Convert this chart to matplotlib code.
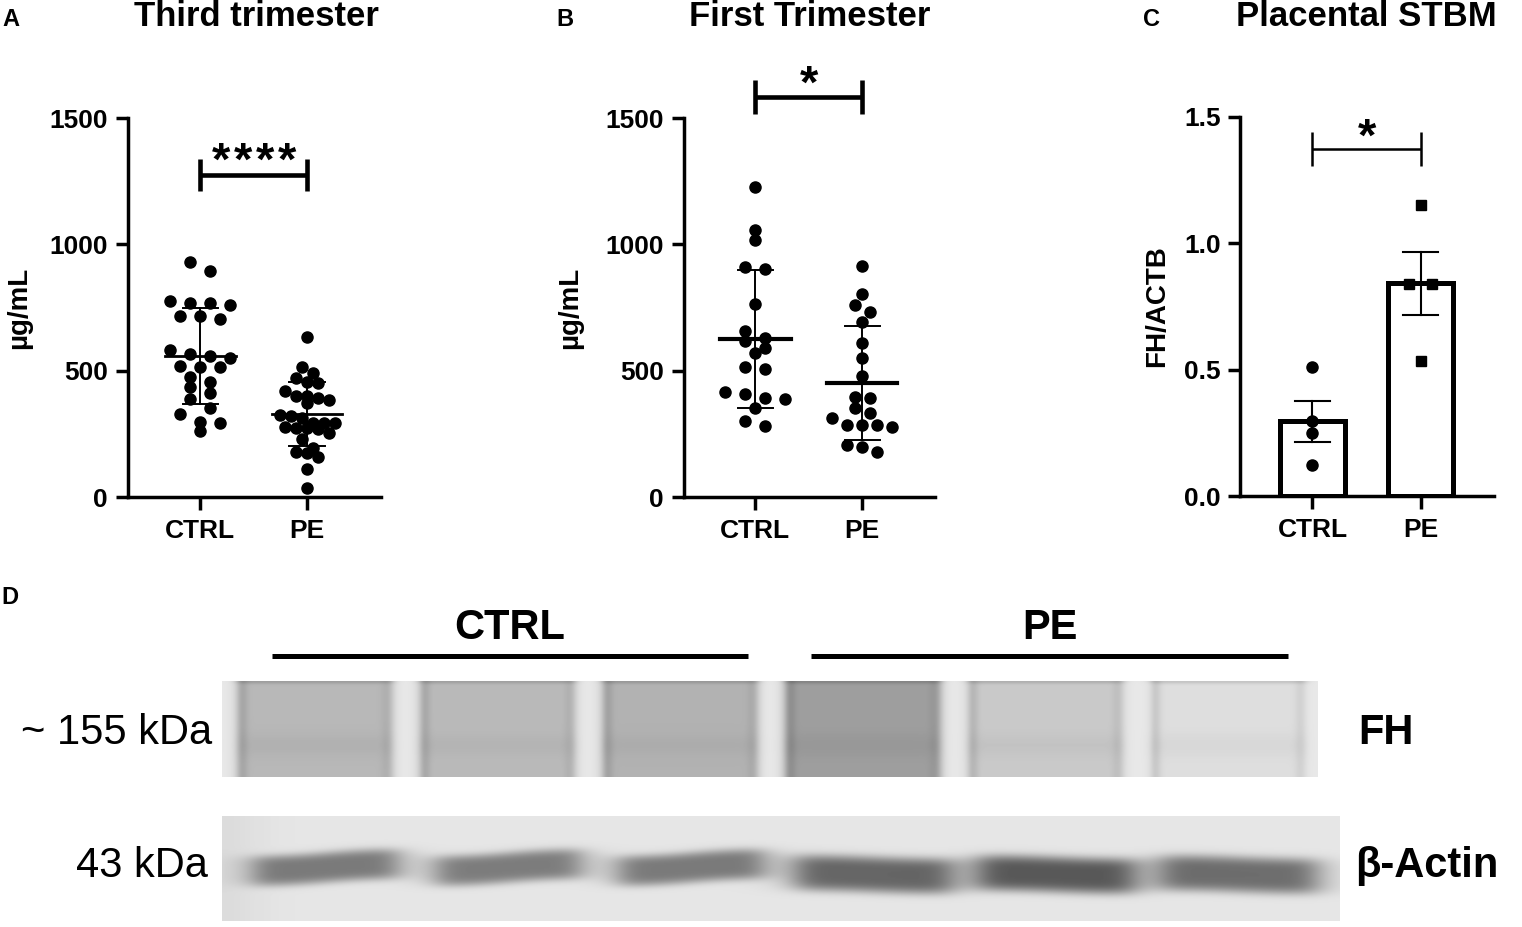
import numpy as np
import matplotlib.pyplot as plt

plt.rcParams['font.family'] = ['Liberation Sans', 'DejaVu Sans']
plt.rcParams['font.weight'] = 'bold'
plt.rcParams['axes.labelweight'] = 'bold'

# ---------------- data ----------------
groups = ['CTRL', 'PE']

# A: third trimester serum FH (ug/mL)
third_ctrl = [929, 896, 760, 776, 766, 766, 717, 704, 717, 582, 566, 549, 558,
              513, 518, 513, 454, 474, 410, 434, 388, 351, 327, 262, 292, 298]
third_pe = [634, 516, 492, 472, 456, 452, 419, 400, 400, 390, 384, 371, 324, 311,
            320, 268, 278, 294, 294, 272, 254, 294, 272, 228, 179, 157, 175, 193,
            110, 37]
third_mean = [558, 328]
third_sd = [190, 127]

# B: first trimester serum FH (ug/mL)
first_ctrl = [1228, 1057, 1017, 901, 911, 762, 617, 628, 657, 588, 569, 506, 513,
              417, 390, 408, 387, 353, 301, 281]
first_pe = [914, 803, 760, 733, 691, 608, 549, 479, 390, 394, 351, 311, 331, 276,
            285, 285, 285, 206, 197, 179]
first_mean = [624, 452]
first_sd = [273, 225]

# C: placental STBM, FH/ACTB
stbm_ctrl = [0.512, 0.298, 0.248, 0.123]
stbm_pe = [1.152, 0.839, 0.839, 0.535]
stbm_mean = [0.295, 0.841]
stbm_sem = [0.081, 0.125]

# D: western blot, relative lane darkness
lane_groups = ['CTRL', 'CTRL', 'CTRL', 'PE', 'PE', 'PE']
fh_level = [0.72, 0.73, 0.70, 0.62, 0.79, 0.87]      # grey of FH strip per lane
actin_density = [0.42, 0.41, 0.42, 0.50, 0.55, 0.47]  # darkness of actin band

W, H = 1522, 927
fig = plt.figure(figsize=(W / 100, H / 100), dpi=100)


def px_axes(left, top, right, bottom):
    return fig.add_axes([left / W, 1 - bottom / H, (right - left) / W, (bottom - top) / H])


def style(ax):
    for s in ['top', 'right']:
        ax.spines[s].set_visible(False)
    for s in ['left', 'bottom']:
        ax.spines[s].set_linewidth(2.5)
        ax.spines[s].set_capstyle('projecting')
    ax.tick_params(width=2.5, length=9, labelsize=19, pad=5)
    ax.tick_params(axis='x', pad=7)
    ax.set_xticks([0, 1])
    ax.set_xticklabels(groups)
    ax.set_facecolor('none')


def swarm(values, y_scale, row_px, gap_px):
    # group points into horizontal rows, centre each row on the category
    v = np.asarray(values, float)
    order = np.argsort(-v, kind='stable')
    offs = np.zeros(len(v))
    rows, row = [], []
    for idx in order:
        if row and (v[row[0]] - v[idx]) * y_scale > row_px:
            rows.append(row)
            row = []
        row.append(idx)
    rows.append(row)
    for r in rows:
        n = len(r)
        for j, idx in enumerate(r):
            offs[idx] = (j - (n - 1) / 2) * gap_px
    return offs


def scales(ax):
    bb = ax.get_position()
    x0, x1 = ax.get_xlim()
    y0, y1 = ax.get_ylim()
    return bb.width * W / (x1 - x0), bb.height * H / (y1 - y0)


def dot_panel(ax, ctrl, pe, mean, sd, gaps, mean_lw):
    sx, sy = scales(ax)
    for k, vals in enumerate([ctrl, pe]):
        off = swarm(vals, sy, 9.5, gaps[k]) / sx
        ax.plot(k + off, vals, 'o', color='black', ms=8, mec='black', clip_on=False, zorder=3)
        ax.plot([k - 0.33, k + 0.33], [mean[k], mean[k]], color='black', lw=mean_lw, zorder=4)
        ax.plot([k, k], [mean[k] - sd[k], mean[k] + sd[k]], color='black', lw=1.4, zorder=4)
        for yv in (mean[k] - sd[k], mean[k] + sd[k]):
            ax.plot([k - 0.165, k + 0.165], [yv, yv], color='black', lw=1.4, zorder=4)


def bracket(ax, y, half, lw, n_stars, ybase, size):
    ax.plot([0, 1], [y, y], color='black', lw=lw, clip_on=False, solid_capstyle='butt')
    for xv in (0, 1):
        ax.plot([xv, xv], [y - half, y + half], color='black', lw=lw, clip_on=False,
                solid_capstyle='butt')
    sx, _ = scales(ax)
    step = 22 / sx
    for j in range(n_stars):
        ax.text(0.5 + (j - (n_stars - 1) / 2) * step, ybase, '*', ha='center',
                va='baseline', fontsize=size, clip_on=False)


# ---------------- panel A ----------------
axA = px_axes(127.5, 118, 381, 497)
axA.set_xlim(-0.682, 1.692)
axA.set_ylim(0, 1500)
style(axA)
axA.set_yticks([0, 500, 1000, 1500])
axA.set_ylabel('\u00b5g/mL', fontsize=20)
axA.yaxis.set_label_coords(-0.375, 0.5)
dot_panel(axA, third_ctrl, third_pe, third_mean, third_sd, [20, 11], 2.0)
bracket(axA, 1274, 63, 3.3, 4, 1275, 34)

# ---------------- panel B ----------------
axB = px_axes(683.5, 118, 935, 497)
axB.set_xlim(-0.673, 1.682)
axB.set_ylim(0, 1500)
style(axB)
axB.set_yticks([0, 500, 1000, 1500])
axB.set_ylabel('\u00b5g/mL', fontsize=20)
axB.yaxis.set_label_coords(-0.40, 0.5)
dot_panel(axB, first_ctrl, first_pe, first_mean, first_sd, [20, 15], 3.0)
bracket(axB, 1583, 67, 3.3, 1, 1580, 34)

# ---------------- panel C ----------------
axC = px_axes(1240, 116.7, 1494, 496)
axC.set_xlim(-0.669, 1.676)
axC.set_ylim(0, 1.5)
style(axC)
axC.set_yticks([0, 0.5, 1.0, 1.5])
axC.set_yticklabels(['0.0', '0.5', '1.0', '1.5'])
axC.set_ylabel('FH/ACTB', fontsize=20)
axC.yaxis.set_label_coords(-0.275, 0.5)
axC.bar([0, 1], stbm_mean, width=0.6, color='white', edgecolor='black', linewidth=3.6, zorder=2)
sx, sy = scales(axC)
for k, (vals, mk, ms) in enumerate([(stbm_ctrl, 'o', 8), (stbm_pe, 's', 7)]):
    off = swarm(vals, sy, 9.5, 23) / sx
    axC.plot(k + off, vals, mk, color='black', ms=ms, zorder=3)
    m, e = stbm_mean[k], stbm_sem[k]
    axC.plot([k, k], [m - e, m + e], color='black', lw=1.5, zorder=4)
    for yv in (m - e, m + e):
        axC.plot([k - 0.16, k + 0.16], [yv, yv], color='black', lw=1.5, zorder=4)
bracket(axC, 1.372, 0.067, 1.8, 1, 1.365, 34)

# ---------------- overlay in pixel coordinates: titles, panel D ----------------
ov = fig.add_axes([0, 0, 1, 1])
ov.set_xlim(0, W)
ov.set_ylim(H, 0)
ov.axis('off')

ov.text(256, 16, 'Third trimester', ha='center', va='center', fontsize=25)
ov.text(810, 16, 'First Trimester', ha='center', va='center', fontsize=25)
ov.text(1366, 16, 'Placental STBM', ha='center', va='center', fontsize=25)
for lab, xx, yy in [('A', 11, 19), ('B', 565, 19), ('C', 1152, 19), ('D', 10, 597)]:
    ov.text(xx, yy, lab, ha='center', va='center', fontsize=17)

# blot strips
fh_x0, fh_x1, fh_y0, fh_y1 = 222, 1318, 681, 777
ac_x0, ac_x1, ac_y0, ac_y1 = 222, 1340, 816, 921
n_lanes = len(lane_groups)
pitch = (fh_x1 - fh_x0) / n_lanes

h, w = fh_y1 - fh_y0, fh_x1 - fh_x0
xg = np.arange(w)[None, :].astype(float)
yg = np.arange(h)[:, None].astype(float)
fh_img = np.full((h, w), 0.91)
for i, lvl in enumerate(fh_level):
    a, b = i * pitch + 14, (i + 1) * pitch - 12
    mask = 1 / (1 + np.exp(-(xg - a) / 3)) / (1 + np.exp((xg - b) / 3))
    edge = np.exp(-((xg - a - 5) / 6) ** 2) + 0.6 * np.exp(-((xg - b + 5) / 6) ** 2)
    band = np.exp(-((yg - 64) / 12) ** 2)
    top = np.exp(-(yg / 2.5) ** 2)
    lane = lvl - 0.10 * edge - 0.025 * band - 0.10 * top
    fh_img = fh_img * (1 - mask) + lane * mask
ov.imshow(fh_img, cmap='gray', vmin=0, vmax=1, interpolation='bilinear', aspect='auto',
          extent=(fh_x0, fh_x1, fh_y1, fh_y0), zorder=1)

h2, w2 = ac_y1 - ac_y0, ac_x1 - ac_x0
xg = np.arange(w2)[None, :].astype(float)
yg = np.arange(h2)[:, None].astype(float)
ac_img = 0.90 - 0.04 * np.exp(-(xg / 40) ** 2) + 0 * yg
for i, dens in enumerate(actin_density):
    cx = (i + 0.5) * pitch + 12
    pe = lane_groups[i] == 'PE'
    cy = 58 if pe else 51
    hwx = 80 if pe else 74
    hwy = 18 if pe else 15.5
    tilt = 2 if pe else -4
    cyl = cy + tilt * np.tanh(1.5 * (xg - cx) / hwx)
    prof = 1 / (1 + ((xg - cx) / hwx) ** 8) * np.exp(-((yg - cyl) / hwy) ** 4)
    ac_img = ac_img - dens * prof
ov.imshow(ac_img, cmap='gray', vmin=0, vmax=1, interpolation='bilinear', aspect='auto',
          extent=(ac_x0, ac_x1, ac_y1, ac_y0), zorder=1)
ov.set_xlim(0, W)
ov.set_ylim(H, 0)

# group bars and labels over the blot
for g, (xa, xb) in zip(groups, [(272, 748), (811, 1288)]):
    ov.plot([xa, xb], [656, 656], color='black', lw=3.6, solid_capstyle='butt')
    ov.text((xa + xb) / 2, 628, g, ha='center', va='center', fontsize=30)
ov.text(212, 733, '~ 155 kDa', ha='right', va='center', fontsize=30, fontweight='normal')
ov.text(208, 866, '43 kDa', ha='right', va='center', fontsize=30, fontweight='normal')
ov.text(1358, 733, 'FH', ha='left', va='center', fontsize=30)
ov.text(1355, 866, '\u03b2-Actin', ha='left', va='center', fontsize=30)

fig.savefig('out.png', dpi=100, facecolor='white')
